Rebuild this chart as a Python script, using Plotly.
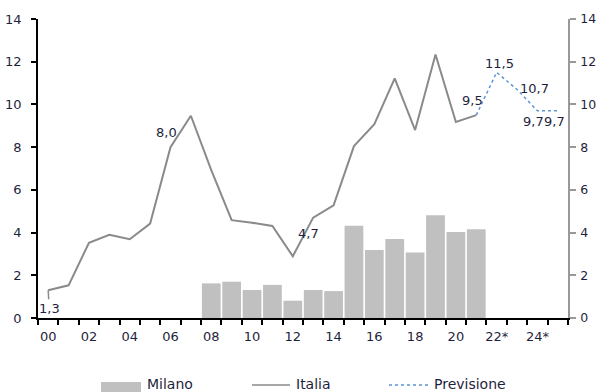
import plotly.graph_objects as go

# ---- data ----
years = [str(y) for y in range(2000, 2026)]
tick_text = ["00", "", "02", "", "04", "", "06", "", "08", "", "10", "", "12", "",
             "14", "", "16", "", "18", "", "20", "", "22*", "", "24*", ""]

milano_years = [str(y) for y in range(2008, 2022)]
milano_vals = [1.62, 1.70, 1.31, 1.55, 0.81, 1.31, 1.26, 4.32, 3.18, 3.70, 3.07, 4.81, 4.03, 4.15]

italia_years = [str(y) for y in range(2000, 2022)]
italia_vals = [1.3, 1.53, 3.52, 3.9, 3.69, 4.42, 8.0, 9.47, 6.92, 4.58, 4.46, 4.31, 2.89, 4.7,
               5.28, 8.05, 9.08, 11.22, 8.8, 12.34, 9.18, 9.5]

prev_years = ["2021", "2022", "2023", "2024", "2025"]
prev_vals = [9.5, 11.5, 10.7, 9.7, 9.7]

# data labels: (year, value, text, dx px, dy px)
label_years = ["2000", "2006", "2013", "2021", "2022", "2023", "2024", "2025"]
label_vals = [1.3, 8.0, 4.7, 9.5, 11.5, 10.7, 9.7, 9.7]
label_text = ["1,3", "8,0", "4,7", "9,5", "11,5", "10,7", "9,7", "9,7"]
label_dx = [1, -4, -5, -4, 3, 17, -4, -3]
label_dy = [-18, 15, -16, 15, 9, 1, -11, -11]

FONT = "DejaVu Sans"
TXT = "#1f1f3d"

fig = go.Figure()
fig.add_trace(go.Bar(x=milano_years, y=milano_vals, name="Milano",
                     marker=dict(color="#c0c0c0", line=dict(width=0)),
                     showlegend=False))
fig.add_trace(go.Scatter(x=italia_years, y=italia_vals, mode="lines", name="Italia",
                         line=dict(color="#8a8a8a", width=2), showlegend=False))
fig.add_trace(go.Scatter(x=prev_years, y=prev_vals, mode="lines", name="Previsione",
                         line=dict(color="#5b95d6", width=1.5, dash="dot"), showlegend=False))
# invisible trace to activate the right axis
fig.add_trace(go.Scatter(x=[years[0]], y=[0], yaxis="y2", mode="markers",
                         marker=dict(opacity=0), showlegend=False, hoverinfo="skip"))

for yr, v, t, dx, dy in zip(label_years, label_vals, label_text, label_dx, label_dy):
    xi = years.index(yr)
    if t == "1,3":
        fig.add_annotation(x=xi, y=v, text=t, showarrow=True, arrowhead=0, arrowwidth=1.5,
                           arrowcolor="#8a8a8a", ax=dx, ay=-dy, standoff=0,
                           font=dict(family=FONT, size=13, color=TXT))
    else:
        fig.add_annotation(x=xi, y=v, text=t, showarrow=False, xshift=dx, yshift=dy,
                           font=dict(family=FONT, size=13, color=TXT))

# manual legend (paper coords)
W, H, L, T = 530.0, 299.0, 38.0, 19.0
def px(x):
    return (x - L) / W
def py(y):
    return (T + H - y) / H

fig.add_shape(type="rect", xref="paper", yref="paper", x0=px(101), x1=px(141),
              y0=py(394), y1=py(382), fillcolor="#c0c0c0", line=dict(width=0))
fig.add_shape(type="line", xref="paper", yref="paper", x0=px(252), x1=px(290),
              y0=py(385), y1=py(385), line=dict(color="#8a8a8a", width=1.5))
fig.add_shape(type="line", xref="paper", yref="paper", x0=px(389), x1=px(430),
              y0=py(385), y1=py(385), line=dict(color="#5b95d6", width=1.5, dash="dot"))
for xx, t in [(145, "Milano"), (294, "Italia"), (432, "Previsione")]:
    fig.add_annotation(xref="paper", yref="paper", x=px(xx), y=py(384), text=t,
                       showarrow=False, xanchor="left", yanchor="middle",
                       font=dict(family=FONT, size=14, color=TXT))

fig.update_layout(
    width=600, height=392,
    margin=dict(l=38, r=32, t=19, b=74),
    paper_bgcolor="white", plot_bgcolor="white",
    bargap=0.08,
    font=dict(family=FONT, size=13, color=TXT),
    xaxis=dict(type="category", categoryorder="array", categoryarray=years,
               range=[-0.5, 25.5], tickmode="array", tickvals=years, ticktext=tick_text,
               tickson="boundaries", ticks="outside", ticklen=5, tickcolor="black",
               tickwidth=1.5, showline=True, linecolor="black", linewidth=1.5,
               showgrid=False, zeroline=False, tickangle=0, ticklabelstandoff=6,
               automargin=False,
               tickfont=dict(family=FONT, size=13, color=TXT)),
    yaxis=dict(range=[0, 14], tickvals=[0, 2, 4, 6, 8, 10, 12, 14], ticks="outside",
               ticklen=5, tickcolor="black", tickwidth=1.5, showline=True,
               linecolor="black", linewidth=1.5, showgrid=False, zeroline=False,
               ticklabelstandoff=7, automargin=False,
               tickfont=dict(family=FONT, size=13, color=TXT)),
    yaxis2=dict(range=[0, 14], tickvals=[0, 2, 4, 6, 8, 10, 12, 14], overlaying="y",
                side="right", ticks="outside", ticklen=6, tickcolor="#999999",
                tickwidth=1.5, showline=True, linecolor="#999999", linewidth=1.5,
                showgrid=False, zeroline=False, ticklabelstandoff=2, automargin=False,
                tickfont=dict(family=FONT, size=12.5, color=TXT)),
)

fig.write_html("out.html")
